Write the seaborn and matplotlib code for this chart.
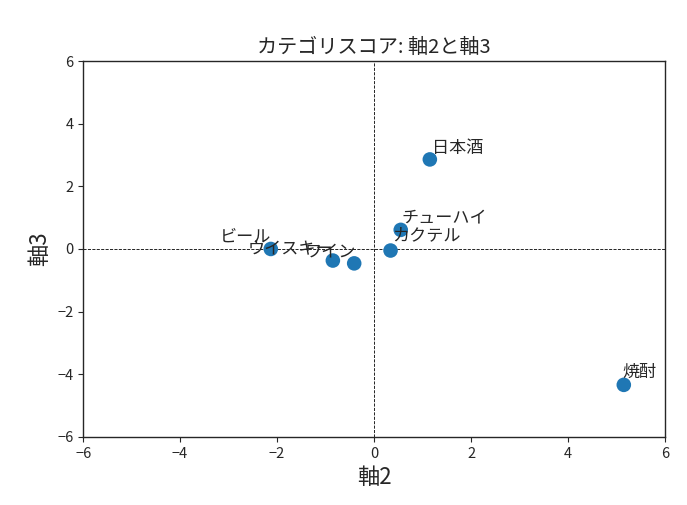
import matplotlib
matplotlib.use("Agg")
import matplotlib.pyplot as plt
import seaborn as sns
import pandas as pd

categories = ["ビール", "ウイスキー", "ワイン", "カクテル", "チューハイ", "日本酒", "焼酎"]
axis2 = [-2.13, -0.85, -0.41, 0.34, 0.55, 1.15, 5.15]
axis3 = [0.00, -0.37, -0.46, -0.05, 0.61, 2.86, -4.34]

# label offsets (data units) for readability
label_dx = [-1.05, -1.75, -1.01, 0.04, 0.02, 0.04, -0.02]
label_dy = [0.10, 0.12, 0.09, 0.20, 0.12, 0.08, 0.12]

sns.set_style("ticks")
plt.rcParams['font.family'] = ['Noto Sans CJK JP', 'DejaVu Sans']

df = pd.DataFrame({"軸2": axis2, "軸3": axis3, "cat": categories})

fig = plt.figure(figsize=(6.87, 5.05), dpi=100)
ax = fig.add_axes([0.121, 0.135, 0.847, 0.744])
sns.scatterplot(data=df, x="軸2", y="軸3", ax=ax, s=110, color="#1f77b4",
                edgecolor="none", zorder=3)
ax.axhline(0, color="black", linestyle="--", linewidth=0.6, zorder=1)
ax.axvline(0, color="black", linestyle="--", linewidth=0.6, zorder=1)
for c, x, y, dx, dy in zip(categories, axis2, axis3, label_dx, label_dy):
    ax.text(x + dx, y + dy, c, fontsize=12.3, ha="left", va="bottom", zorder=4)
ax.set_xlim(-6, 6)
ax.set_ylim(-6, 6)
ax.set_xticks([-6, -4, -2, 0, 2, 4, 6])
ax.set_yticks([-6, -4, -2, 0, 2, 4, 6])
ax.tick_params(labelsize=10.5)
ax.set_xlabel("軸2", fontsize=16)
ax.set_ylabel("軸3", fontsize=16)
ax.set_title("カテゴリスコア: 軸2と軸3", fontsize=14.5)
for sp in ax.spines.values():
    sp.set_visible(True)
    sp.set_linewidth(1.0)
fig.savefig("out.png", dpi=100)
